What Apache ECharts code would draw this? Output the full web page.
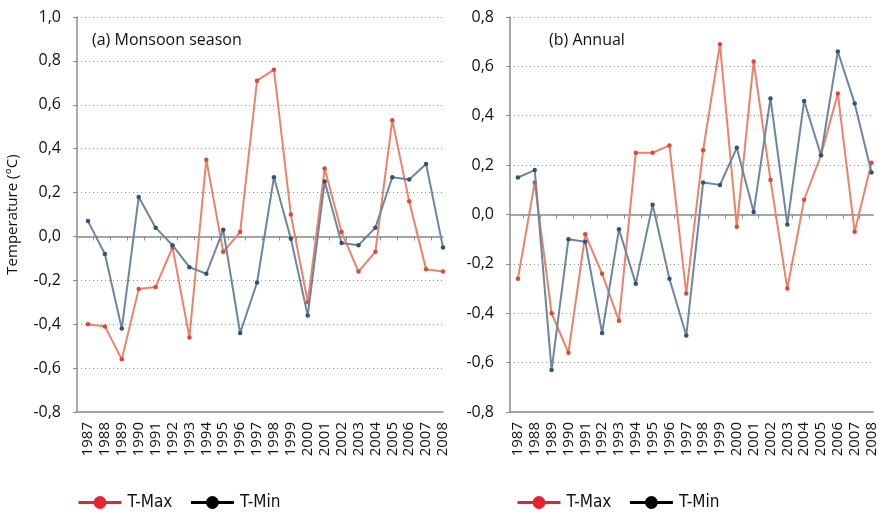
<!DOCTYPE html>
<html>
<head>
<meta charset="utf-8">
<script src="https://cdn.jsdelivr.net/npm/echarts@6/dist/echarts.min.js"></script>
<style>
  html, body { margin: 0; padding: 0; background: #fff; }
  #chart { width: 879px; height: 515px; }
</style>
</head>
<body>
<div id="chart"></div>
<script>
// years on the x axis
const years = [1987, 1988, 1989, 1990, 1991, 1992, 1993, 1994, 1995, 1996, 1997,
  1998, 1999, 2000, 2001, 2002, 2003, 2004, 2005, 2006, 2007, 2008]

// (a) Monsoon season
const monsoonMax = [-0.40, -0.41, -0.56, -0.24, -0.23, -0.05, -0.46, 0.35, -0.07, 0.02, 0.71,
  0.76, 0.10, -0.30, 0.31, 0.02, -0.16, -0.07, 0.53, 0.16, -0.15, -0.16]
const monsoonMin = [0.07, -0.08, -0.42, 0.18, 0.04, -0.04, -0.14, -0.17, 0.03, -0.44, -0.21,
  0.27, -0.01, -0.36, 0.25, -0.03, -0.04, 0.04, 0.27, 0.26, 0.33, -0.05]

// (b) Annual
const annualMax = [-0.26, 0.13, -0.40, -0.56, -0.08, -0.24, -0.43, 0.25, 0.25, 0.28, -0.32,
  0.26, 0.69, -0.05, 0.62, 0.14, -0.30, 0.06, 0.24, 0.49, -0.07, 0.21]
const annualMin = [0.15, 0.18, -0.63, -0.10, -0.11, -0.48, -0.06, -0.28, 0.04, -0.26, -0.49,
  0.13, 0.12, 0.27, 0.01, 0.47, -0.04, 0.46, 0.24, 0.66, 0.45, 0.17]

const panelTitles = ['(a) Monsoon season', '(b) Annual']
const seriesNames = ['T-Max', 'T-Min']

const fontMain = '"Open Sans", "Noto Sans", sans-serif'
const fontLegend = '"Liberation Sans Narrow", "DejaVu Sans Condensed", "Noto Sans", sans-serif'

const maxLine = '#ee8268'
const maxDot = '#d84a3c'
const minLine = '#6c86a2'
const minDot = '#34536f'

const fmt = v => (Math.abs(v) < 1e-9 ? 0 : v).toFixed(1).replace('.', ',')
const pairs = arr => years.map((y, i) => [y, arr[i]])

const chart = echarts.init(document.getElementById('chart'))

// one panel = grid + 2 x axes (zero line with ticks, bottom line with labels) + y axis
function xAxes(gridIndex, min, max) {
  return [
    {
      type: 'value', gridIndex, min, max,
      axisLine: { onZero: true, lineStyle: { color: '#8c8c8c', width: 1.5 } },
      axisTick: { show: true, inside: false, length: 4, customValues: years.map(y => y + 0.3),
        lineStyle: { color: '#8c8c8c' } },
      axisLabel: { show: false },
      splitLine: { show: false }
    },
    {
      type: 'value', gridIndex, min, max, position: 'bottom',
      axisLine: { onZero: false, lineStyle: { color: '#8c8c8c', width: 1.5 } },
      axisTick: { show: false },
      axisLabel: {
        customValues: years, rotate: 90, margin: 10,
        color: '#111', fontFamily: fontMain, fontSize: 15,
        formatter: v => String(v)
      },
      splitLine: { show: false }
    }
  ]
}

function yAxis(gridIndex, min, max, name) {
  return {
    type: 'value', gridIndex, min, max, interval: 0.2,
    name: name || '',
    nameLocation: 'middle', nameGap: 57, nameRotate: 90,
    nameTextStyle: { fontFamily: fontMain, fontSize: 15, color: '#111' },
    axisLine: { show: true, onZero: false, lineStyle: { color: '#8c8c8c', width: 1.5 } },
    axisTick: { show: true, length: 4, lineStyle: { color: '#8c8c8c' } },
    axisLabel: { margin: 16, color: '#111', fontFamily: fontMain, fontSize: 16, formatter: fmt },
    splitLine: { show: true, lineStyle: { color: '#8a8a8a', type: [1, 3], width: 1 } }
  }
}

function lineSeries(name, xi, yi, arr, lineColor, dotColor) {
  return {
    name, type: 'line', xAxisIndex: xi, yAxisIndex: yi,
    data: pairs(arr),
    symbol: 'circle', symbolSize: 4.5,
    itemStyle: { color: dotColor },
    lineStyle: { color: lineColor, width: 2 },
    emphasis: { disabled: true },
    z: name === 'T-Min' ? 3 : 2
  }
}

function legend(left) {
  return {
    left, top: 489,
    itemWidth: 43, itemHeight: 16, itemGap: 17,
    textStyle: { fontFamily: fontLegend, fontSize: 17, color: '#111', padding: [0, 0, 0, 1] },
    data: [
      { name: 'T-Max', itemStyle: { color: '#e8232b' }, lineStyle: { color: '#e8232b', width: 3 } },
      { name: 'T-Min', itemStyle: { color: '#000' }, lineStyle: { color: '#000', width: 3 } }
    ]
  }
}

const option = {
  animation: false,
  backgroundColor: '#fff',
  title: [
    { text: panelTitles[0], left: 87, top: 27,
      textStyle: { fontFamily: fontMain, fontSize: 16, fontWeight: 'normal', color: '#111' } },
    { text: panelTitles[1], left: 544, top: 27,
      textStyle: { fontFamily: fontMain, fontSize: 16, fontWeight: 'normal', color: '#111' } }
  ],
  legend: [legend(72), legend(511)],
  grid: [
    { left: 77, top: 17, width: 366, height: 395 },
    { left: 510, top: 17, right: 0, height: 395 }
  ],
  xAxis: [...xAxes(0, 1986.35, 2008), ...xAxes(1, 1986.53, 2008.1)],
  yAxis: [yAxis(0, -0.8, 1.0, 'Temperature (°C)'), yAxis(1, -0.8, 0.8)],
  series: [
    lineSeries(seriesNames[0], 0, 0, monsoonMax, maxLine, maxDot),
    lineSeries(seriesNames[1], 0, 0, monsoonMin, minLine, minDot),
    lineSeries(seriesNames[0], 2, 1, annualMax, maxLine, maxDot),
    lineSeries(seriesNames[1], 2, 1, annualMin, minLine, minDot)
  ]
}

chart.setOption(option)
</script>
</body>
</html>
